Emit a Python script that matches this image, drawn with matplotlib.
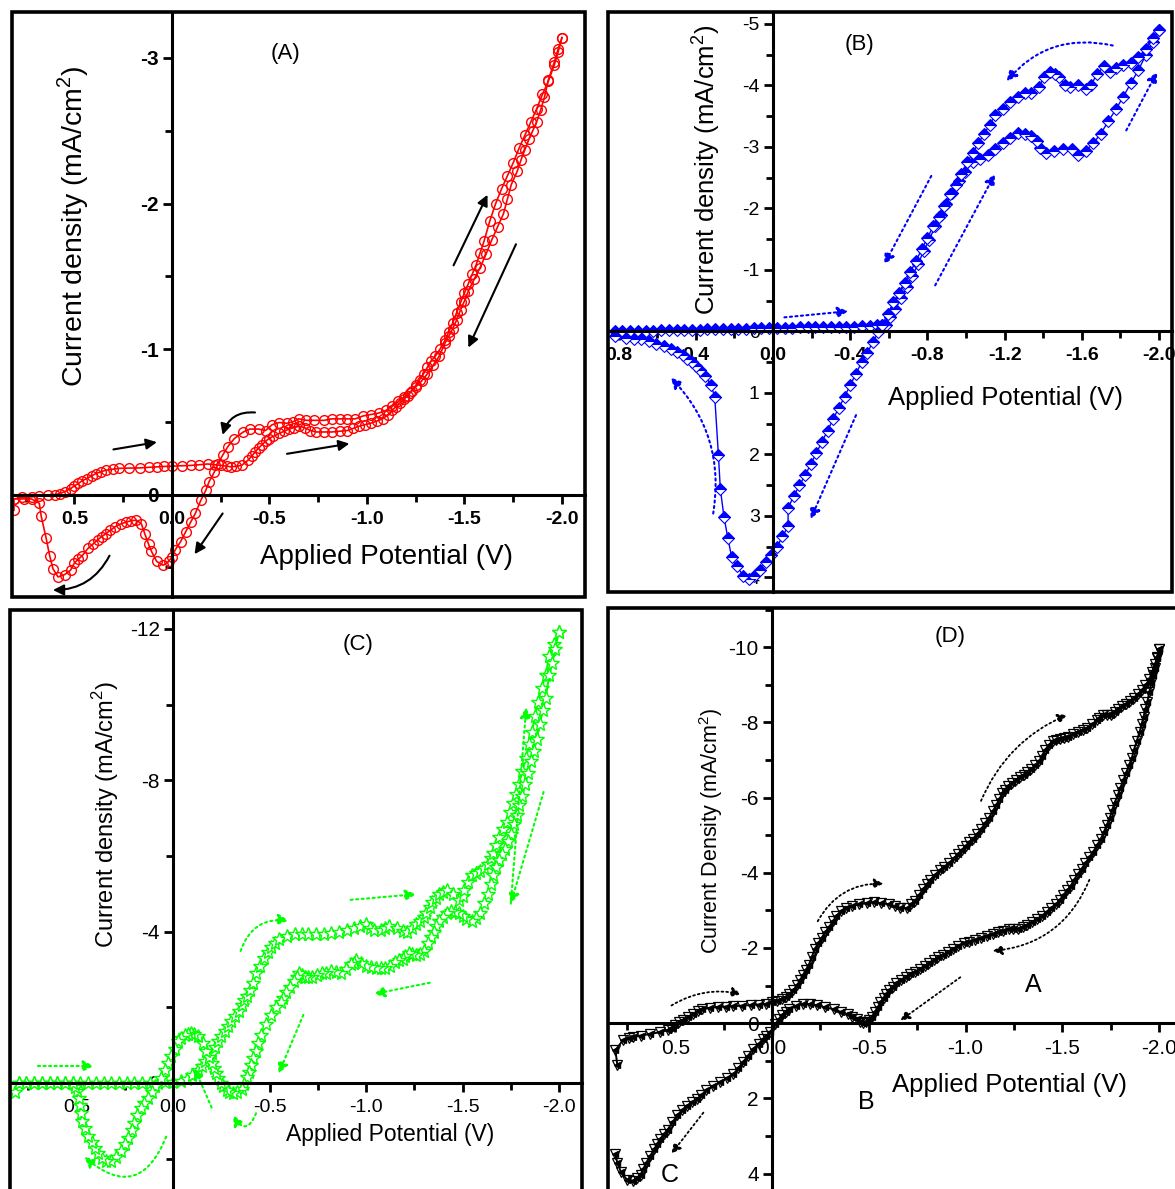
import matplotlib
matplotlib.use("Agg")
import matplotlib.pyplot as plt
import numpy as np
from matplotlib.patches import Rectangle
from matplotlib.ticker import MultipleLocator, FormatStrFormatter

plt.rcParams['font.family'] = ['Liberation Sans', 'DejaVu Sans']
plt.rcParams['mathtext.fontset'] = 'custom'
plt.rcParams['mathtext.rm'] = 'Liberation Sans'
plt.rcParams['axes.unicode_minus'] = False

# ---- panel A : (V, mA/cm2) ----
a_fwd = [(0.81, 0.108), (0.81, 0.03), (0.77, 0.02), (0.72, 0.016), (0.68, 0.01), (0.636, 0.005),
         (0.60, 0.0), (0.575, -0.007), (0.55, -0.02), (0.52, -0.04), (0.50, -0.06), (0.48, -0.076),
         (0.46, -0.095), (0.436, -0.11), (0.41, -0.13), (0.39, -0.144), (0.365, -0.156),
         (0.34, -0.167), (0.30, -0.175), (0.27, -0.18), (0.22, -0.182), (0.165, -0.183),
         (0.12, -0.187), (0.078, -0.19), (0.04, -0.193), (0.0, -0.195), (-0.05, -0.198),
         (-0.096, -0.2), (-0.14, -0.205), (-0.183, -0.21), (-0.22, -0.205), (-0.253, -0.2),
         (-0.28, -0.195), (-0.305, -0.19), (-0.33, -0.195), (-0.357, -0.2), (-0.39, -0.236),
         (-0.41, -0.265), (-0.427, -0.293), (-0.445, -0.32), (-0.46, -0.34), (-0.48, -0.365),
         (-0.497, -0.385), (-0.52, -0.40), (-0.55, -0.42), (-0.575, -0.435), (-0.60, -0.45),
         (-0.625, -0.46), (-0.653, -0.47), (-0.68, -0.46), (-0.71, -0.44), (-0.74, -0.43),
         (-0.78, -0.43), (-0.82, -0.43), (-0.86, -0.435), (-0.90, -0.44), (-0.93, -0.455),
         (-0.96, -0.47), (-0.99, -0.48), (-1.02, -0.49), (-1.05, -0.505), (-1.08, -0.52),
         (-1.11, -0.55), (-1.13, -0.58), (-1.15, -0.605), (-1.17, -0.63), (-1.19, -0.655),
         (-1.21, -0.68), (-1.23, -0.715), (-1.25, -0.75), (-1.27, -0.79), (-1.29, -0.83),
         (-1.31, -0.875), (-1.33, -0.92), (-1.35, -0.95), (-1.375, -1.0), (-1.40, -1.06),
         (-1.42, -1.12), (-1.44, -1.18), (-1.46, -1.25), (-1.48, -1.32), (-1.50, -1.385),
         (-1.52, -1.45), (-1.54, -1.515), (-1.56, -1.58), (-1.58, -1.66), (-1.60, -1.74),
         (-1.63, -1.88), (-1.66, -2.0), (-1.69, -2.10), (-1.72, -2.19), (-1.75, -2.28),
         (-1.78, -2.38), (-1.81, -2.47), (-1.84, -2.56), (-1.87, -2.65), (-1.90, -2.75),
         (-1.93, -2.84), (-1.96, -2.95), (-1.98, -3.04), (-2.0, -3.14)]
a_rev = [(-2.0, -3.14), (-1.98, -3.06), (-1.96, -2.97), (-1.93, -2.85), (-1.91, -2.73),
         (-1.89, -2.64), (-1.87, -2.56), (-1.85, -2.50), (-1.83, -2.44), (-1.81, -2.37),
         (-1.79, -2.30), (-1.77, -2.22), (-1.74, -2.13), (-1.72, -2.03), (-1.70, -1.93),
         (-1.67, -1.84), (-1.64, -1.75), (-1.61, -1.65), (-1.58, -1.56), (-1.55, -1.48),
         (-1.52, -1.40), (-1.50, -1.33), (-1.48, -1.27), (-1.46, -1.20), (-1.44, -1.14),
         (-1.42, -1.09), (-1.40, -1.04), (-1.37, -0.95), (-1.34, -0.89), (-1.31, -0.83),
         (-1.28, -0.78), (-1.25, -0.74), (-1.22, -0.70), (-1.19, -0.67), (-1.16, -0.64),
         (-1.13, -0.61), (-1.10, -0.58), (-1.06, -0.56), (-1.02, -0.55), (-0.98, -0.54),
         (-0.94, -0.52), (-0.90, -0.52), (-0.86, -0.52), (-0.82, -0.52), (-0.78, -0.51),
         (-0.73, -0.51), (-0.69, -0.51), (-0.65, -0.52), (-0.62, -0.50), (-0.59, -0.49),
         (-0.55, -0.495), (-0.514, -0.48), (-0.48, -0.44), (-0.444, -0.45), (-0.40, -0.45),
         (-0.366, -0.43), (-0.32, -0.385), (-0.287, -0.33), (-0.26, -0.27), (-0.235, -0.21),
         (-0.218, -0.156), (-0.19, -0.087), (-0.174, -0.03), (-0.148, 0.04), (-0.12, 0.13),
         (-0.096, 0.19), (-0.07, 0.257), (-0.044, 0.325), (-0.017, 0.38), (0.0, 0.43),
         (0.017, 0.46), (0.044, 0.486), (0.078, 0.46), (0.105, 0.39), (0.12, 0.34),
         (0.139, 0.27), (0.157, 0.20), (0.183, 0.176), (0.21, 0.18), (0.235, 0.19),
         (0.26, 0.20), (0.29, 0.22), (0.315, 0.245), (0.34, 0.27), (0.36, 0.29), (0.38, 0.31),
         (0.405, 0.34), (0.43, 0.37), (0.46, 0.42), (0.48, 0.445), (0.50, 0.47), (0.52, 0.52),
         (0.55, 0.55), (0.584, 0.566), (0.61, 0.51), (0.627, 0.42), (0.645, 0.30),
         (0.67, 0.15), (0.68, 0.06), (0.72, 0.03), (0.76, 0.03), (0.81, 0.03)]

# ---- panel B ----
b_fwd = [(0.82, 0.0), (0.78, -0.005), (0.74, -0.01), (0.70, -0.01), (0.66, -0.015), (0.62, -0.015),
         (0.58, -0.02), (0.54, -0.02), (0.50, -0.025), (0.46, -0.025), (0.42, -0.03), (0.38, -0.03),
         (0.34, -0.035), (0.30, -0.035), (0.26, -0.04), (0.22, -0.04), (0.18, -0.045), (0.14, -0.045),
         (0.10, -0.05), (0.06, -0.05), (0.02, -0.055), (-0.02, -0.055), (-0.06, -0.06), (-0.10, -0.06),
         (-0.14, -0.065), (-0.18, -0.065), (-0.22, -0.07), (-0.26, -0.07), (-0.30, -0.075),
         (-0.34, -0.075), (-0.38, -0.08), (-0.42, -0.08), (-0.46, -0.085), (-0.50, -0.09),
         (-0.54, -0.10), (-0.565, -0.105), (-0.585, -0.11), (-0.605, -0.23), (-0.634, -0.36),
         (-0.663, -0.54), (-0.693, -0.72), (-0.722, -0.91), (-0.751, -1.09), (-0.78, -1.31),
         (-0.81, -1.49), (-0.839, -1.71), (-0.868, -1.89), (-0.898, -2.07), (-0.927, -2.26),
         (-0.966, -2.44), (-0.995, -2.60), (-1.034, -2.75), (-1.073, -2.81), (-1.112, -2.87),
         (-1.151, -2.96), (-1.19, -3.06), (-1.229, -3.15), (-1.268, -3.23), (-1.307, -3.21),
         (-1.337, -3.18), (-1.366, -3.09), (-1.385, -2.98), (-1.415, -2.90), (-1.454, -2.93),
         (-1.502, -2.96), (-1.551, -2.96), (-1.58, -2.87), (-1.62, -2.93), (-1.658, -3.06),
         (-1.697, -3.21), (-1.737, -3.42), (-1.776, -3.61), (-1.815, -3.82), (-1.854, -4.04),
         (-1.893, -4.25), (-1.932, -4.50), (-1.971, -4.71), (-2.0, -4.91)]
b_rev = [(-2.0, -4.91), (-1.971, -4.77), (-1.932, -4.59), (-1.893, -4.47), (-1.854, -4.37),
         (-1.815, -4.34), (-1.776, -4.28), (-1.746, -4.22), (-1.717, -4.31), (-1.678, -4.19),
         (-1.649, -4.01), (-1.62, -3.94), (-1.58, -4.01), (-1.541, -3.98), (-1.512, -4.01),
         (-1.483, -4.13), (-1.463, -4.19), (-1.434, -4.22), (-1.405, -4.13), (-1.376, -3.98),
         (-1.337, -3.88), (-1.307, -3.88), (-1.268, -3.82), (-1.229, -3.73), (-1.19, -3.61),
         (-1.151, -3.52), (-1.122, -3.36), (-1.093, -3.21), (-1.063, -3.06), (-1.034, -2.90),
         (-1.005, -2.75), (-0.976, -2.56), (-0.946, -2.38), (-0.917, -2.23), (-0.888, -2.04),
         (-0.859, -1.86), (-0.829, -1.71), (-0.80, -1.52), (-0.771, -1.34), (-0.741, -1.15),
         (-0.712, -0.97), (-0.683, -0.79), (-0.654, -0.63), (-0.624, -0.48), (-0.595, -0.29),
         (-0.566, -0.11), (-0.546, 0.01), (-0.517, 0.17), (-0.488, 0.35), (-0.459, 0.50),
         (-0.429, 0.69), (-0.40, 0.87), (-0.371, 1.06), (-0.341, 1.24), (-0.312, 1.42),
         (-0.283, 1.61), (-0.254, 1.79), (-0.224, 1.98), (-0.195, 2.16), (-0.166, 2.34),
         (-0.137, 2.50), (-0.107, 2.68), (-0.078, 2.87), (-0.078, 3.17), (-0.049, 3.33),
         (-0.02, 3.51), (0.01, 3.63), (0.039, 3.75), (0.068, 3.88), (0.098, 3.97), (0.127, 4.03),
         (0.156, 3.97), (0.185, 3.82), (0.215, 3.66), (0.234, 3.36), (0.254, 3.02), (0.273, 2.56),
         (0.283, 2.01), (0.302, 1.06), (0.322, 0.87), (0.351, 0.72), (0.38, 0.63), (0.40, 0.56),
         (0.42, 0.50), (0.445, 0.44), (0.468, 0.38), (0.50, 0.33), (0.527, 0.29), (0.565, 0.24),
         (0.605, 0.20), (0.645, 0.16), (0.683, 0.13), (0.72, 0.115), (0.761, 0.10), (0.82, 0.07)]

# ---- panel C ----
c_fwd = [(0.82, 0.25), (0.80, 0.0), (0.76, 0.0), (0.72, 0.0), (0.68, 0.0), (0.64, 0.0), (0.60, 0.0),
         (0.56, 0.0), (0.52, 0.0), (0.48, 0.0), (0.44, 0.0), (0.40, 0.0), (0.36, 0.0), (0.32, 0.0),
         (0.28, 0.0), (0.24, 0.0), (0.20, 0.0), (0.16, 0.0), (0.12, 0.0), (0.08, 0.0), (0.04, -0.02),
         (0.0, -0.03), (-0.04, -0.04), (-0.07, -0.1), (-0.10, -0.2), (-0.13, -0.34), (-0.15, -0.46),
         (-0.166, -0.58), (-0.185, -0.68), (-0.2, -0.79), (-0.217, -0.95), (-0.234, -1.1),
         (-0.25, -1.24), (-0.27, -1.37), (-0.285, -1.5), (-0.30, -1.63), (-0.32, -1.77),
         (-0.34, -1.9), (-0.355, -2.05), (-0.37, -2.19), (-0.385, -2.3), (-0.40, -2.45),
         (-0.415, -2.65), (-0.43, -2.9), (-0.45, -3.1), (-0.47, -3.3), (-0.49, -3.45),
         (-0.51, -3.6), (-0.53, -3.7), (-0.55, -3.8), (-0.59, -3.88), (-0.63, -3.94),
         (-0.67, -3.94), (-0.70, -3.94), (-0.74, -3.94), (-0.78, -3.94), (-0.82, -3.97),
         (-0.86, -4.0), (-0.90, -4.05), (-0.94, -4.09), (-0.97, -4.15), (-1.0, -4.19),
         (-1.02, -4.1), (-1.04, -4.04), (-1.08, -4.04), (-1.10, -4.1), (-1.12, -4.14),
         (-1.16, -4.09), (-1.19, -4.03), (-1.21, -4.0), (-1.24, -4.09), (-1.26, -4.19),
         (-1.28, -4.29), (-1.30, -4.4), (-1.31, -4.49), (-1.33, -4.65), (-1.34, -4.79),
         (-1.36, -4.9), (-1.38, -4.99), (-1.40, -5.05), (-1.42, -5.09), (-1.45, -4.99),
         (-1.48, -4.84), (-1.50, -4.95), (-1.51, -5.09), (-1.53, -5.3), (-1.55, -5.49),
         (-1.57, -5.55), (-1.59, -5.59), (-1.61, -5.68), (-1.63, -5.79), (-1.645, -5.95),
         (-1.66, -6.09), (-1.675, -6.3), (-1.69, -6.49), (-1.71, -6.7), (-1.73, -6.89),
         (-1.745, -7.15), (-1.76, -7.39), (-1.775, -7.65), (-1.79, -7.89), (-1.81, -8.25),
         (-1.83, -8.59), (-1.845, -8.95), (-1.86, -9.28), (-1.875, -9.7), (-1.89, -10.08),
         (-1.91, -10.45), (-1.93, -10.78), (-1.95, -11.28), (-1.975, -11.6), (-2.0, -11.93)]
c_rev = [(-2.0, -11.93), (-1.98, -11.48), (-1.965, -11.1), (-1.95, -10.78), (-1.93, -10.18),
         (-1.915, -9.85), (-1.90, -9.48), (-1.885, -9.1), (-1.87, -8.78), (-1.855, -8.5),
         (-1.84, -8.19), (-1.825, -7.9), (-1.81, -7.59), (-1.795, -7.35), (-1.78, -7.09),
         (-1.765, -6.85), (-1.75, -6.59), (-1.735, -6.4), (-1.72, -6.19), (-1.705, -6.05),
         (-1.69, -5.89), (-1.675, -5.7), (-1.66, -5.49), (-1.645, -5.25), (-1.63, -4.99),
         (-1.61, -4.75), (-1.59, -4.49), (-1.57, -4.35), (-1.55, -4.29), (-1.52, -4.34),
         (-1.50, -4.42), (-1.48, -4.49), (-1.46, -4.53), (-1.44, -4.54), (-1.42, -4.5),
         (-1.40, -4.4), (-1.38, -4.29), (-1.365, -4.15), (-1.35, -3.99), (-1.335, -3.85),
         (-1.32, -3.69), (-1.30, -3.49), (-1.28, -3.42), (-1.26, -3.39), (-1.24, -3.40),
         (-1.22, -3.44), (-1.20, -3.35), (-1.19, -3.29), (-1.17, -3.25), (-1.15, -3.19),
         (-1.125, -3.1), (-1.10, -3.04), (-1.075, -3.04), (-1.05, -3.04), (-1.025, -3.06),
         (-1.0, -3.09), (-0.975, -3.17), (-0.95, -3.24), (-0.935, -3.18), (-0.92, -3.14),
         (-0.895, -3.0), (-0.87, -2.9), (-0.845, -2.93), (-0.82, -2.95), (-0.795, -2.92),
         (-0.77, -2.9), (-0.745, -2.85), (-0.72, -2.8), (-0.70, -2.8), (-0.685, -2.8),
         (-0.67, -2.85), (-0.655, -2.9), (-0.64, -2.8), (-0.626, -2.7), (-0.605, -2.55),
         (-0.587, -2.4), (-0.57, -2.25), (-0.557, -2.15), (-0.535, -2.0), (-0.51, -1.8),
         (-0.48, -1.55), (-0.457, -1.27), (-0.44, -1.05), (-0.43, -0.84), (-0.415, -0.65),
         (-0.405, -0.47), (-0.395, -0.3), (-0.385, -0.15), (-0.37, 0.02), (-0.355, 0.15),
         (-0.33, 0.24), (-0.31, 0.27), (-0.29, 0.24), (-0.277, 0.18), (-0.26, 0.08), (-0.25, 0.0),
         (-0.235, -0.13), (-0.223, -0.26), (-0.21, -0.4), (-0.2, -0.53), (-0.185, -0.7),
         (-0.17, -0.84), (-0.156, -1.05), (-0.13, -1.24), (-0.11, -1.3), (-0.094, -1.32),
         (-0.075, -1.3), (-0.06, -1.27), (-0.04, -1.2), (-0.026, -1.1), (-0.01, -0.9),
         (0.01, -0.71), (0.025, -0.52), (0.04, -0.34), (0.065, -0.13), (0.094, 0.08), (0.11, 0.24),
         (0.13, 0.4), (0.15, 0.53), (0.166, 0.66), (0.185, 0.85), (0.2, 1.05), (0.215, 1.25),
         (0.234, 1.45), (0.25, 1.62), (0.27, 1.8), (0.295, 1.95), (0.32, 2.05), (0.345, 2.05),
         (0.37, 1.98), (0.39, 1.85), (0.405, 1.71), (0.42, 1.55), (0.44, 1.4), (0.455, 1.2),
         (0.47, 1.0), (0.475, 0.8), (0.48, 0.58), (0.49, 0.4), (0.5, 0.21), (0.51, 0.1),
         (0.52, 0.0), (0.56, 0.0), (0.60, 0.0), (0.64, 0.0), (0.68, 0.0), (0.72, 0.0), (0.76, 0.0),
         (0.80, 0.0)]

# ---- panel D ----
d_fwd = [(0.80, 1.1), (0.81, 0.72), (0.77, 0.45), (0.74, 0.40), (0.72, 0.37), (0.68, 0.33),
         (0.63, 0.29), (0.58, 0.24), (0.54, 0.19), (0.52, 0.12), (0.50, 0.05), (0.48, -0.02),
         (0.46, -0.08), (0.435, -0.16), (0.41, -0.24), (0.385, -0.31), (0.36, -0.37), (0.32, -0.41),
         (0.28, -0.43), (0.24, -0.44), (0.20, -0.45), (0.155, -0.465), (0.11, -0.48), (0.07, -0.495),
         (0.03, -0.51), (0.0, -0.56), (-0.025, -0.6), (-0.05, -0.64), (-0.07, -0.7), (-0.09, -0.77),
         (-0.11, -0.88), (-0.13, -1.01), (-0.145, -1.15), (-0.16, -1.28), (-0.175, -1.42),
         (-0.19, -1.55), (-0.205, -1.75), (-0.22, -1.97), (-0.238, -2.12), (-0.256, -2.27),
         (-0.275, -2.42), (-0.295, -2.56), (-0.315, -2.71), (-0.333, -2.86), (-0.355, -2.97),
         (-0.38, -3.06), (-0.415, -3.12), (-0.45, -3.16), (-0.49, -3.19), (-0.527, -3.21),
         (-0.565, -3.19), (-0.605, -3.16), (-0.635, -3.11), (-0.663, -3.06), (-0.70, -3.06),
         (-0.72, -3.16), (-0.74, -3.26), (-0.76, -3.41), (-0.78, -3.56), (-0.80, -3.69),
         (-0.818, -3.81), (-0.84, -3.94), (-0.866, -4.06), (-0.89, -4.16), (-0.915, -4.26),
         (-0.94, -4.39), (-0.963, -4.51), (-0.98, -4.61), (-1.0, -4.71), (-1.02, -4.81),
         (-1.04, -4.91), (-1.06, -5.03), (-1.08, -5.16), (-1.10, -5.31), (-1.12, -5.46),
         (-1.14, -5.63), (-1.16, -5.81), (-1.175, -5.96), (-1.19, -6.11), (-1.205, -6.21),
         (-1.22, -6.31), (-1.24, -6.39), (-1.26, -6.46), (-1.28, -6.54), (-1.30, -6.61),
         (-1.32, -6.69), (-1.34, -6.76), (-1.36, -6.86), (-1.38, -6.96), (-1.395, -7.11),
         (-1.41, -7.26), (-1.43, -7.39), (-1.45, -7.51), (-1.47, -7.54), (-1.49, -7.56),
         (-1.51, -7.58), (-1.53, -7.60), (-1.555, -7.68), (-1.58, -7.75), (-1.605, -7.8),
         (-1.63, -7.85), (-1.655, -7.95), (-1.68, -8.05), (-1.69, -8.12), (-1.71, -8.20),
         (-1.73, -8.20), (-1.75, -8.20), (-1.77, -8.28), (-1.79, -8.35), (-1.81, -8.43),
         (-1.83, -8.50), (-1.85, -8.58), (-1.87, -8.65), (-1.89, -8.75), (-1.91, -8.85),
         (-1.93, -8.98), (-1.95, -9.15), (-1.965, -9.35), (-1.98, -9.55), (-1.99, -9.75),
         (-2.0, -9.95)]
d_rev = [(-2.0, -9.95), (-1.99, -9.7), (-1.98, -9.45), (-1.97, -9.25), (-1.96, -9.05),
         (-1.95, -8.8), (-1.94, -8.55), (-1.93, -8.35), (-1.92, -8.15), (-1.91, -7.95),
         (-1.90, -7.75), (-1.885, -7.5), (-1.87, -7.26), (-1.86, -7.06), (-1.845, -6.86),
         (-1.83, -6.66), (-1.816, -6.46), (-1.80, -6.26), (-1.787, -6.06), (-1.77, -5.86),
         (-1.758, -5.66), (-1.745, -5.46), (-1.729, -5.26), (-1.715, -5.08), (-1.70, -4.91),
         (-1.68, -4.73), (-1.66, -4.56), (-1.64, -4.41), (-1.62, -4.26), (-1.60, -4.11),
         (-1.58, -3.96), (-1.56, -3.81), (-1.545, -3.66), (-1.525, -3.53), (-1.506, -3.41),
         (-1.487, -3.28), (-1.467, -3.16), (-1.44, -3.06), (-1.419, -2.96), (-1.395, -2.86),
         (-1.37, -2.76), (-1.345, -2.68), (-1.32, -2.61), (-1.295, -2.56), (-1.27, -2.51),
         (-1.245, -2.5), (-1.225, -2.51), (-1.195, -2.46), (-1.167, -2.42), (-1.14, -2.37),
         (-1.11, -2.32), (-1.08, -2.27), (-1.05, -2.22), (-1.02, -2.17), (-0.992, -2.12),
         (-0.96, -2.05), (-0.934, -1.97), (-0.91, -1.9), (-0.886, -1.82), (-0.86, -1.75),
         (-0.837, -1.67), (-0.81, -1.6), (-0.789, -1.52), (-0.765, -1.45), (-0.74, -1.37),
         (-0.715, -1.3), (-0.69, -1.22), (-0.665, -1.15), (-0.643, -1.07), (-0.625, -0.97),
         (-0.605, -0.87), (-0.59, -0.77), (-0.576, -0.67), (-0.56, -0.55), (-0.547, -0.42),
         (-0.53, -0.3), (-0.517, -0.17), (-0.50, -0.08), (-0.488, -0.02), (-0.47, -0.01),
         (-0.455, -0.02), (-0.44, -0.1), (-0.415, -0.17), (-0.39, -0.24), (-0.355, -0.3),
         (-0.32, -0.37), (-0.275, -0.42), (-0.23, -0.48), (-0.195, -0.5), (-0.16, -0.51),
         (-0.125, -0.46), (-0.09, -0.37), (-0.07, -0.29), (-0.05, -0.21), (-0.035, -0.1),
         (-0.016, 0.03), (0.01, 0.24), (0.03, 0.34), (0.047, 0.43), (0.07, 0.55), (0.098, 0.69),
         (0.125, 0.87), (0.15, 1.04), (0.175, 1.2), (0.20, 1.36), (0.235, 1.47), (0.27, 1.57),
         (0.305, 1.68), (0.34, 1.79), (0.365, 1.91), (0.39, 2.03), (0.415, 2.11), (0.44, 2.19),
         (0.465, 2.32), (0.49, 2.45), (0.515, 2.64), (0.54, 2.83), (0.56, 2.96), (0.58, 3.09),
         (0.595, 3.22), (0.61, 3.36), (0.63, 3.53), (0.65, 3.71), (0.665, 3.87), (0.68, 4.03),
         (0.70, 4.12), (0.72, 4.19), (0.75, 4.16), (0.78, 3.97), (0.80, 3.71), (0.81, 3.49)]

# scan direction arrows: (V start, I start, V end, I end, curvature)
a_arrows = [(0.30, -0.31, 0.077, -0.36, 0), (-0.59, -0.28, -0.91, -0.35, 0),
            (-0.426, -0.564, -0.26, -0.41, 0.4), (-1.444, -1.575, -1.618, -2.06, 0),
            (-1.764, -1.72, -1.52, -1.01, 0), (-0.26, 0.13, -0.116, 0.41, 0),
            (0.32, 0.42, 0.61, 0.656, -0.3)]
b_arrows = [(-0.059, -0.23, -0.39, -0.33, 0), (-0.84, -0.75, -1.15, -2.56, 0),
            (-1.83, -3.27, -1.99, -4.22, 0), (-1.76, -4.65, -1.21, -4.07, 0.3),
            (-0.82, -2.53, -0.576, -1.09, 0), (-0.43, 1.36, -0.195, 3.05, 0),
            (0.31, 2.96, 0.53, 0.75, 0.25)]
c_arrows = [(0.70, -0.45, 0.41, -0.45, 0), (-0.35, -3.49, -0.60, -4.29, -0.4),
            (-0.92, -4.84, -1.26, -4.99, 0), (-1.75, -4.74, -1.83, -9.93, 0),
            (-1.92, -7.69, -1.75, -4.74, 0), (-1.33, -2.65, -1.04, -2.35, 0),
            (-0.675, -1.8, -0.547, -0.25, 0), (-0.2, 0.65, -0.11, -0.4, 0),
            (-0.43, 0.80, -0.31, 0.85, -1.0), (0.036, 1.42, 0.46, 1.95, -0.7)]
d_arrows = [(0.52, -0.47, 0.16, -0.77, -0.2), (-0.236, -2.71, -0.576, -3.71, -0.3),
            (-1.08, -5.91, -1.525, -8.2, -0.2), (-1.64, -3.81, -1.14, -1.92, -0.3),
            (-0.973, -1.22, -0.663, -0.07, 0), (0.355, 2.38, 0.52, 3.47, 0)]

W, H = 1175, 1189
fig = plt.figure(figsize=(W / 100, H / 100), dpi=100)


def px_rect(l, t, r, b):
    return [l / W, 1 - b / H, (r - l) / W, (b - t) / H]


def make_panel(rect, xlim, ylim, xmaj, xmin, ymaj, ymin, xfs, yfs, xbold, ybold, yfmt):
    ax = fig.add_axes(rect)
    ax.set_xlim(xlim)
    ax.set_ylim(ylim)
    for s in ['top', 'right']:
        ax.spines[s].set_visible(False)
    for s in ['left', 'bottom']:
        ax.spines[s].set_position(('data', 0))
        ax.spines[s].set_linewidth(2.2)
        ax.spines[s].set_zorder(4)
    ax.patch.set_visible(False)
    ax.add_patch(Rectangle((0, 0), 1, 1, transform=ax.transAxes, fill=False,
                           lw=2.6, ec='k', clip_on=False, zorder=6))
    ax.xaxis.set_major_locator(MultipleLocator(xmaj))
    ax.xaxis.set_minor_locator(MultipleLocator(xmin))
    ax.yaxis.set_major_locator(MultipleLocator(ymaj))
    ax.yaxis.set_minor_locator(MultipleLocator(ymin))
    ax.xaxis.set_major_formatter(FormatStrFormatter('%.1f'))
    ax.yaxis.set_major_formatter(FormatStrFormatter(yfmt))
    ax.tick_params(which='major', direction='out', length=6.5, width=2, pad=3)
    ax.tick_params(which='minor', direction='out', length=5, width=2)
    ax.tick_params(axis='x', labelsize=xfs, pad=5)
    ax.tick_params(axis='y', labelsize=yfs)
    for t in ax.get_xticklabels():
        t.set_fontweight('bold' if xbold else 'normal')
    for t in ax.get_yticklabels():
        t.set_fontweight('bold' if ybold else 'normal')
    return ax


def draw_arrows(ax, arrows, color, ls, lw, ms):
    for x0, y0, x1, y1, r in arrows:
        ax.annotate('', xy=(x1, y1), xytext=(x0, y0),
                    arrowprops=dict(arrowstyle='-|>', color=color, lw=lw, linestyle=ls,
                                    connectionstyle=f'arc3,rad={r}', shrinkA=0, shrinkB=0,
                                    mutation_scale=ms))


def fig_text(x, y, s, size, rot=0):
    fig.text(x / W, 1 - y / H, s, fontsize=size, rotation=rot, ha='center', va='center')


ylab = 'Current density (mA/cm$^2$)'

# Panel A
axA = make_panel(px_rect(12, 12, 585, 597), (0.82, -2.118), (0.704, -3.316),
                 0.5, 0.25, 1, 0.5, 14, 15, True, True, '%d')
for seg in (a_fwd, a_rev):
    v, i = np.array(seg).T
    axA.plot(v, i, color='red', lw=1.2, marker='o', ms=7, mfc='none', mec='red', mew=1)
draw_arrows(axA, a_arrows, 'black', '-', 1.5, 16)
axA.text(-0.58, -3.03, '(A)', fontsize=16, ha='center', va='center')
fig_text(386, 557, 'Applied Potential (V)', 20)
fig_text(73, 226, ylab, 20.5, 90)

# Panel B
axB = make_panel(px_rect(608, 12, 1172, 592), (0.855, -2.067), (4.236, -5.195),
                 0.4, 0.2, 1, 0.5, 14, 14, True, False, '%d')
for seg in (b_fwd, b_rev):
    v, i = np.array(seg).T
    axB.plot(v, i, color='blue', lw=1, marker='D', ms=6.5, fillstyle='top',
             mfc='blue', markerfacecoloralt='white', mec='blue', mew=0.8)
draw_arrows(axB, b_arrows, 'blue', ':', 1.5, 16)
axB.text(-0.45, -4.66, '(B)', fontsize=16, ha='center', va='center')
fig_text(1006, 398, 'Applied Potential (V)', 18.5)
fig_text(706, 170, ylab, 18.5, 90)

# Panel C
axC = make_panel(px_rect(10, 610, 582, 1195), (0.845, -2.119), (2.96, -12.5),
                 0.5, 0.25, 4, 2, 14, 15, False, False, '%d')
for seg in (c_fwd, c_rev):
    v, i = np.array(seg).T
    axC.plot(v, i, color='#00ff00', lw=1.5, marker='*', ms=10, mfc='white',
             mec='#00ff00', mew=1)
draw_arrows(axC, c_arrows, '#00ff00', ':', 1.5, 16)
axC.text(-0.96, -11.6, '(C)', fontsize=16, ha='center', va='center')
fig_text(390, 1134, 'Applied Potential (V)', 16.5)
fig_text(106, 815, ylab, 17, 90)

# Panel D
axD = make_panel(px_rect(608, 608, 1177, 1195), (0.848, -2.093), (4.57, -11.04),
                 0.5, 0.25, 2, 1, 15, 15, False, False, '%d')
for seg in (d_fwd, d_rev):
    v, i = np.array(seg).T
    axD.plot(v, i, color='black', lw=1.4, marker='v', ms=7, mfc='none', mec='black', mew=0.9)
    axD.plot(v, i, ls='none', marker='<', ms=4.5, color='black')
draw_arrows(axD, d_arrows, 'black', ':', 1.3, 14)
axD.text(-0.92, -10.27, '(D)', fontsize=16, ha='center', va='center')
axD.text(-1.35, -1.01, 'A', fontsize=18, ha='center', va='center')
axD.text(-0.486, 2.1, 'B', fontsize=18, ha='center', va='center')
axD.text(0.527, 4.03, 'C', fontsize=18, ha='center', va='center')
fig_text(1010, 1085, 'Applied Potential (V)', 18.5)
fig_text(711, 831, 'Current Density (mA/cm$^2$)', 15.5, 90)

fig.savefig('out.png', dpi=100)
